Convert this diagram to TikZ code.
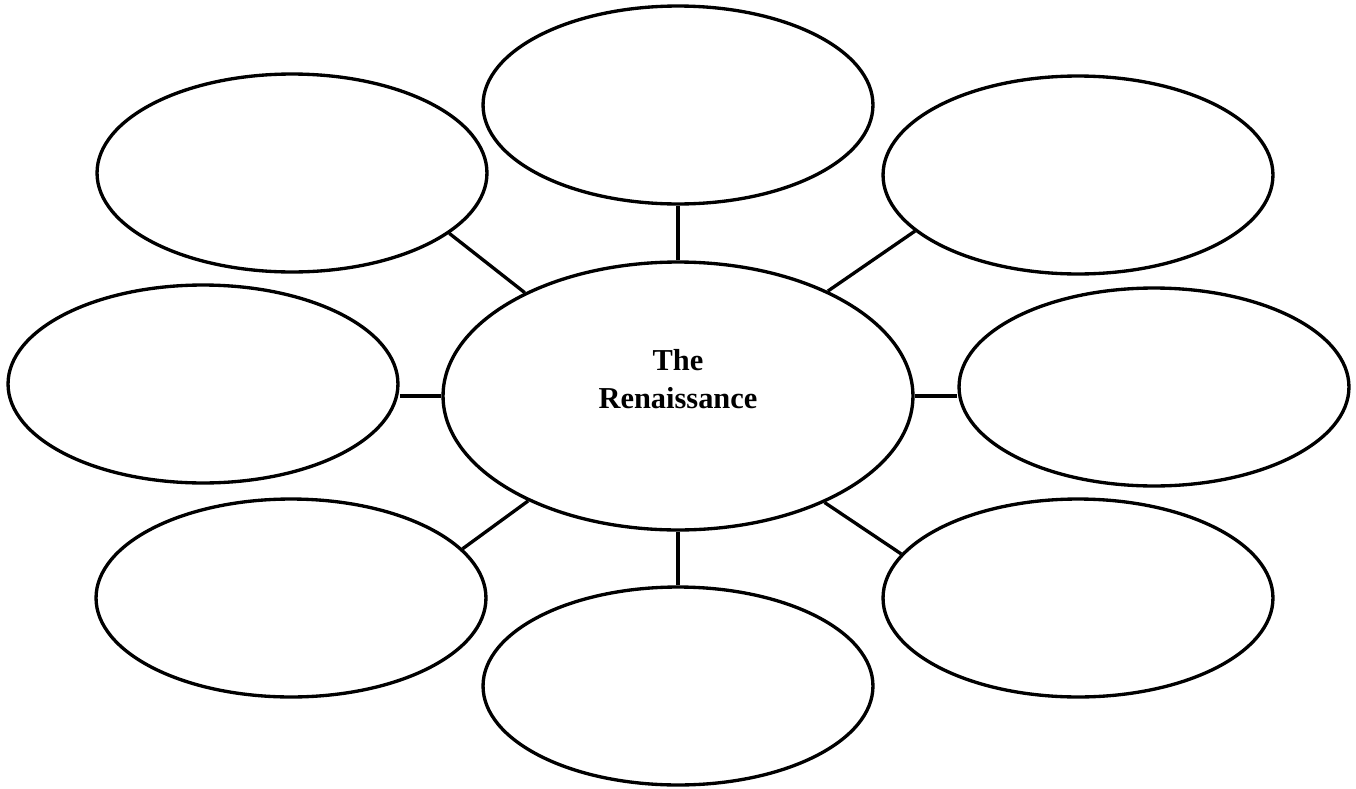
\documentclass[tikz,border=0pt]{standalone}
\usepackage{fontspec}
\setmainfont{Liberation Serif}
\usetikzlibrary{shapes.geometric}

\begin{document}
\begin{tikzpicture}[
        x=0.02cm, y=-0.02cm,
        line width=1.9pt,
        bubble/.style = {ellipse, draw, inner sep=0pt, minimum width=7.8cm, minimum height=3.96cm},
        hub/.style = {ellipse, draw, inner sep=0pt, minimum width=9.4cm, minimum height=5.36cm,
                      align=center, font=\bfseries\fontsize{17.3}{21.6}\selectfont}
    ]
    \useasboundingbox (0,0) rectangle (1356,788);

    \node (C) at (678,396) [hub] {The\\Renaissance\rule[-0.68cm]{0pt}{0.68cm}};

    \node (T)  at (678,105)  [bubble] {};
    \node (TL) at (292,173)  [bubble] {};
    \node (TR) at (1078,175) [bubble] {};
    \node (L)  at (203,384)  [bubble] {};
    \node (R)  at (1154,387) [bubble] {};
    \node (BL) at (291,598)  [bubble] {};
    \node (BR) at (1078,598) [bubble] {};
    \node (B)  at (678,686)  [bubble] {};

    \draw (C.north) -- (T.south);
    \draw (C.146) -- (TL.-21);
    \draw (C.35) -- (TR.199);
    \draw (C.west) -- (C.west -| L.east);
    \draw (C.east) -- (C.east -| R.west);
    \draw (C.215) -- (BL.16);
    \draw (C.-36) -- (BR.166);
    \draw (C.south) -- (B.north);
\end{tikzpicture}
\end{document}
